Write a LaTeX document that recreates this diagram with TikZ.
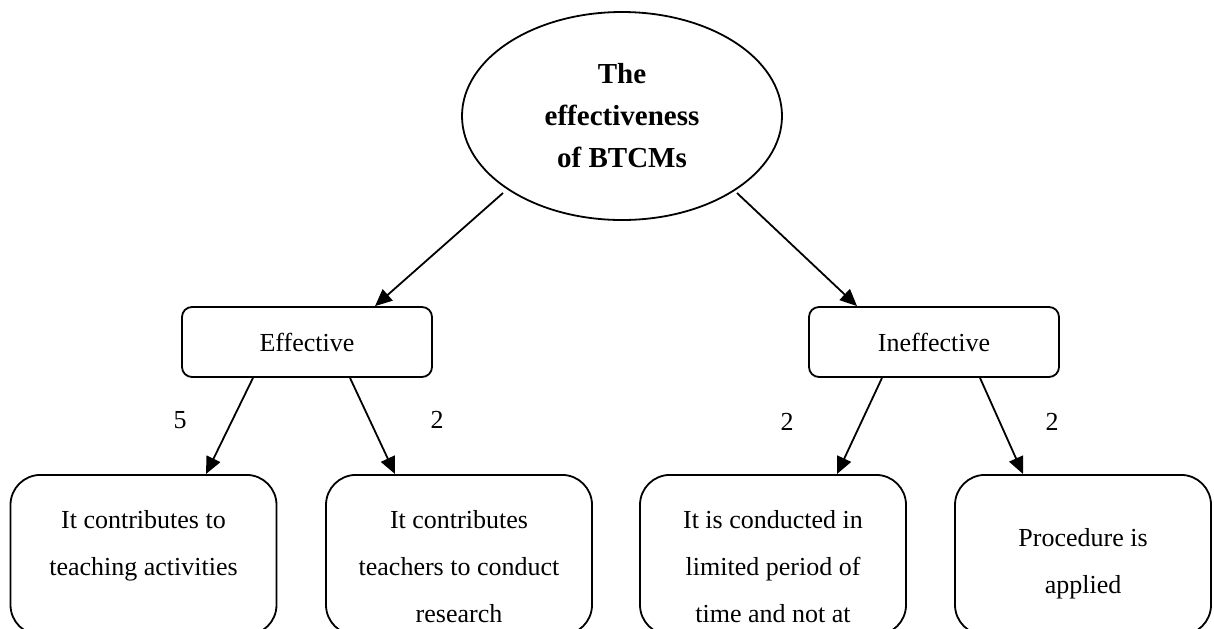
\documentclass[tikz,border=0pt]{standalone}
\usepackage{fontspec}
\setmainfont{Liberation Serif}
\usepackage{tikz}
\usetikzlibrary{calc,shapes.geometric,arrows.meta}

% text of the bottom boxes: width, first line height, lines
\newcommand{\leaftext}[3]{\parbox[t][80pt][t]{#1}{\centering\rule{0pt}{#2}#3}}

\begin{document}
\begin{tikzpicture}[x=0.5pt,y=-0.5pt,line width=0.9pt,
  every node/.style={font=\fontsize{13}{23.5}\selectfont},
  root/.style={draw,ellipse,minimum width=160pt,minimum height=104pt,inner sep=0pt,
    align=center,font=\fontsize{14.5}{21}\selectfont\bfseries},
  kind/.style={draw,rounded corners=5pt,minimum width=125pt,minimum height=35pt,inner sep=0pt},
  leaf/.style={draw,rounded corners=15pt,inner sep=0pt,anchor=north},
  arr/.style={-{Triangle[length=8.5pt,width=7.5pt]}},
  count/.style={inner sep=0pt}]

\useasboundingbox (0,0) rectangle (1214,628);

%Define box parameters
\def\lw{133pt}          %width of a bottom box.
\def\top{27pt}          %first line of a bottom box.

% Define coordinates
\coordinate (rc) at (622,116);
\coordinate (ec) at (307,342);
\coordinate (ic) at (934,342);

% ROOT
\node[root] (root) at (rc) {The\\effectiveness\\of BTCMs};

% EFFECTIVE and INEFFECTIVE
\node[kind] (eff) at (ec) {Effective};
\node[kind] (ineff) at (ic) {Ineffective};

% Bottom boxes
\node[leaf] (b1) at (143.5,474) {\leaftext{\lw}{\top}{It contributes to\\teaching activities}};
\node[leaf] (b2) at (459,474) {\leaftext{\lw}{\top}{It contributes\\teachers to conduct\\research}};
\node[leaf] (b3) at (773,474) {\leaftext{\lw}{\top}{It is conducted in\\limited period of\\time and not at}};
\node[leaf] (b4) at (1083,474) {\leaftext{128pt}{36pt}{Procedure is\\applied}};

% Arrows from the root
\draw[arr] ($(root)+(-119,77)$) -- ($(eff.north)+(68,0)$);
\draw[arr] ($(root)+(115,77)$) -- ($(ineff.north)+(-77,0)$);

% Arrows to the bottom boxes
\draw[arr] ($(eff.south)+(-54,0)$) -- ($(b1.north)+(62.5,0)$);
\draw[arr] ($(eff.south)+(43,0)$) -- ($(b2.north)+(-64,0)$);
\draw[arr] ($(ineff.south)+(-52,0)$) -- ($(b3.north)+(64,0)$);
\draw[arr] ($(ineff.south)+(46,0)$) -- ($(b4.north)+(-60,0)$);

% Counts
\node[count] (n1) at (180,420) {5};
\node[count] (n2) at (437,420) {2};
\node[count] (n3) at (787,422) {2};
\node[count] (n4) at (1052,422) {2};

\end{tikzpicture}
\end{document}
